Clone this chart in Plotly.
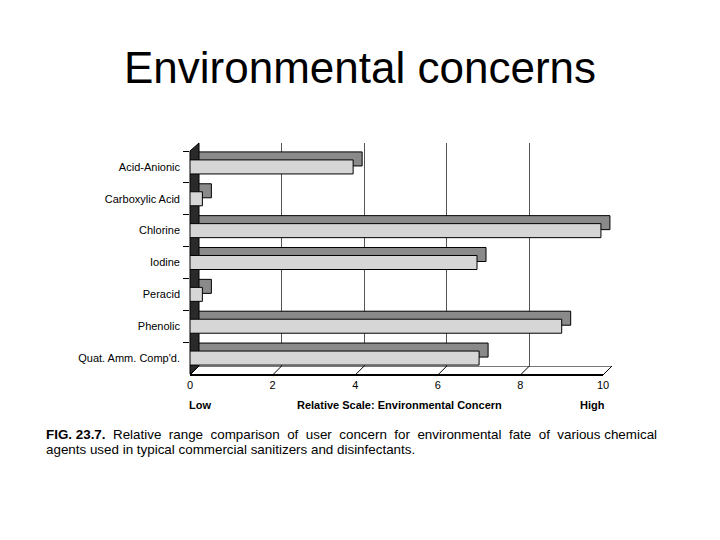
import plotly.graph_objects as go

W, H = 720, 540
PAGE_OFF = 8  # default body margin of the html page

agents = [
    "Acid-Anionic",
    "Carboxylic Acid",
    "Chlorine",
    "Iodine",
    "Peracid",
    "Phenolic",
    "Quat. Amm. Comp'd.",
]
concern = [3.95, 0.3, 9.95, 6.95, 0.3, 9.0, 7.0]
tick_vals = [0, 2, 4, 6, 8, 10]

FRONT = "#d6d6d6"
TOP = "#8a8a8a"
DEPTH_X, DEPTH_Y = 9, 8  # pixel offset of the back wall

# front plane in screen pixels
x0_px, x1_px = 190, 603
ytop_px, ybot_px = 151, 374


def px_x(p):
    return (p - PAGE_OFF) / W


def px_y(p):
    return 1 - (p - PAGE_OFF) / H


fig = go.Figure()

# back face of the boxes (primary axes, drawn first)
fig.add_trace(
    go.Bar(
        x=concern,
        y=agents,
        orientation="h",
        width=0.44,
        marker=dict(color=TOP, line=dict(color="black", width=1)),
        hoverinfo="skip",
    )
)
# front face (second axes, drawn on top)
fig.add_trace(
    go.Bar(
        x=concern,
        y=agents,
        orientation="h",
        width=0.44,
        marker=dict(color=FRONT, line=dict(color="black", width=1)),
        xaxis="x2",
        yaxis="y2",
        name="Concern",
    )
)

fig.update_layout(
    width=W,
    height=H,
    margin=dict(l=0, r=0, t=0, b=0, pad=0),
    paper_bgcolor="white",
    plot_bgcolor="rgba(0,0,0,0)",
    showlegend=False,
    font=dict(family="Liberation Sans, Arial", color="black"),
    # back wall
    xaxis=dict(
        domain=[px_x(x0_px + DEPTH_X), px_x(x1_px + DEPTH_X)],
        range=[0, 10],
        tickvals=tick_vals,
        showgrid=True,
        gridcolor="#555555",
        gridwidth=1,
        showline=True,
        linecolor="#777777",
        showticklabels=False,
        zeroline=False,
        automargin=False,
        anchor="y",
    ),
    yaxis=dict(
        domain=[px_y(ybot_px - DEPTH_Y), px_y(ytop_px - DEPTH_Y)],
        type="category",
        categoryorder="array",
        categoryarray=agents,
        autorange="reversed",
        showticklabels=False,
        showgrid=False,
        automargin=False,
        anchor="x",
    ),
    # front plane
    xaxis2=dict(
        domain=[px_x(x0_px), px_x(x1_px)],
        range=[0, 10],
        tickvals=tick_vals,
        showgrid=False,
        showline=True,
        linecolor="black",
        linewidth=1.5,
        ticks="",
        tickfont=dict(size=11),
        zeroline=False,
        automargin=False,
        anchor="y2",
    ),
    yaxis2=dict(
        domain=[px_y(ybot_px), px_y(ytop_px)],
        type="category",
        categoryorder="array",
        categoryarray=agents,
        autorange="reversed",
        ticks="outside",
        tickson="boundaries",
        ticklen=6,
        tickcolor="black",
        tickfont=dict(size=11),
        ticklabelstandoff=9,
        showgrid=False,
        showline=False,
        automargin=False,
        anchor="x2",
    ),
)

# left side wall (dark strip)
fig.add_shape(
    type="path",
    xref="paper",
    yref="paper",
    path=(
        f"M {px_x(x0_px)} {px_y(ybot_px)} L {px_x(x0_px)} {px_y(ytop_px)} "
        f"L {px_x(x0_px + DEPTH_X)} {px_y(ytop_px - DEPTH_Y)} "
        f"L {px_x(x0_px + DEPTH_X)} {px_y(ybot_px - DEPTH_Y)} Z"
    ),
    fillcolor="#2a2a2a",
    line=dict(color="black", width=1),
    layer="below",
)

# slanted floor ticks
for v in tick_vals:
    xf = px_x(x0_px + (x1_px - x0_px) * v / 10)
    fig.add_shape(
        type="line",
        xref="paper",
        yref="paper",
        x0=xf,
        y0=px_y(ybot_px + 1),
        x1=xf + DEPTH_X / W,
        y1=px_y(ybot_px - DEPTH_Y),
        line=dict(color="black", width=1),
    )

# axis captions
for label, xc in [("Low", 200), ("Relative Scale: Environmental Concern", 400),
                  ("High", 592)]:
    fig.add_annotation(
        x=px_x(xc), y=px_y(405), xref="paper", yref="paper",
        xanchor="center", yanchor="middle",
        text=f"<b>{label}</b>", showarrow=False, font=dict(size=11),
    )

# figure caption (first line spread out like the justified original)
nb = "\u00a0"
line1 = (
    f"<b>FIG.{nb}23.7.</b>{nb} Relative{nb} range{nb} comparison{nb} of{nb} user{nb} "
    f"concern{nb} for{nb} environmental{nb} fate{nb} of{nb} various chemical"
)
line2 = "agents used in typical commercial sanitizers and disinfectants."
for txt, yc in [(line1, 434), (line2, 449)]:
    fig.add_annotation(
        x=px_x(44), y=px_y(yc), xref="paper", yref="paper",
        xanchor="left", yanchor="middle",
        text=txt, showarrow=False, font=dict(size=13.4),
    )

# slide title
fig.add_annotation(
    x=px_x(360), y=px_y(67), xref="paper", yref="paper",
    xanchor="center", yanchor="middle",
    text="Environmental concerns", showarrow=False,
    font=dict(size=44),
)

fig.write_html("out.html")
